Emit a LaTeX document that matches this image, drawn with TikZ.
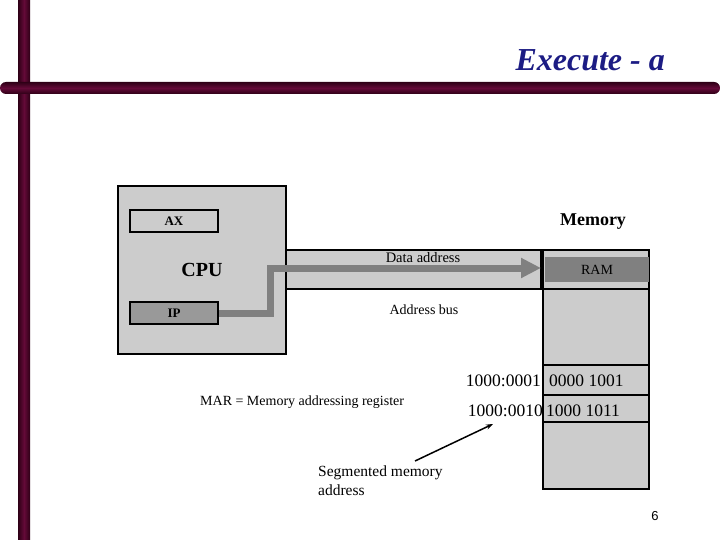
\documentclass[tikz,border=0pt]{standalone}
\usepackage{fontspec}
\setmainfont{Liberation Serif}
\newfontfamily\pagefont{Liberation Sans}
\usetikzlibrary{arrows.meta,positioning,calc}
\definecolor{barmaroon}{HTML}{640A38}
\definecolor{bardark}{HTML}{2E0016}
\definecolor{titleblue}{HTML}{1C1C84}
\definecolor{boxgray}{HTML}{CCCCCC}
\definecolor{ipgray}{HTML}{999999}
\definecolor{busgray}{HTML}{808080}

\begin{document}
\begin{tikzpicture}[x=1pt,y=-1pt,
	box/.style={draw=black,line width=1.5pt,fill=boxgray,inner sep=0pt},
	reg/.style={box,minimum width=88pt,minimum height=22pt,font=\fontsize{13}{13}\selectfont\bfseries},
	txt/.style={inner sep=0pt,font=\fontsize{14}{14}\selectfont},
	cell/.style={inner sep=0pt,font=\fontsize{17.5}{17.5}\selectfont}]
	\useasboundingbox (0,0) rectangle (720,540);
	
	% slide frame
	\shade[left color=bardark,right color=bardark,middle color=barmaroon] (18,0) rectangle (30,540);
	\shade[top color=bardark,bottom color=bardark,middle color=barmaroon,rounded corners=6pt] (0,82) rectangle (720,94);
	\node[anchor=east,inner sep=0pt,text=titleblue,font=\fontsize{32}{32}\selectfont\bfseries\itshape] (title) at (665,60) {Execute - a};
	
	% cpu
	\node[box,minimum width=168pt,minimum height=168pt] (cpu) at (202,270) {};
	\node[reg] (ax) at (174,221) {AX};
	\node[reg,fill=ipgray] (ip) at (174,313) {IP};
	\node[inner sep=0pt,font=\fontsize{20}{20}\selectfont\bfseries] (cpulbl) at (202,270) {CPU};
	
	% bus
	\node[box,minimum width=255pt,minimum height=39pt] (bus) at (413.5,269.5) {};
	\node[txt,font=\fontsize{14.5}{14.5}\selectfont] (data) at (423,258) {Data address};
	\node[txt] (addrbus) at (424,310) {Address bus};
	\coordinate (bend1) at (270,313);
	\coordinate (bend2) at (270,268);
	\coordinate (busend) at (541,268);
	\draw[busgray,line width=7pt,-{Triangle[length=20pt,width=19pt]}] (ip.east) -- (bend1) -- (bend2) -- (busend);
	
	% memory
	\node[inner sep=0pt,font=\fontsize{18}{18}\selectfont\bfseries] (memlbl) at (593,222) {Memory};
	\node[box,minimum width=106pt,minimum height=239pt] (mem) at (596,369.5) {};
	\node[fill=busgray,inner sep=0pt,minimum width=104pt,minimum height=25pt,font=\fontsize{14}{14}\selectfont] (ram) at (597,269.5) {RAM};
	\foreach \y in {289,365,395,422}
		\draw[line width=1.5pt] (mem.west |- 0,\y) -- (mem.east |- 0,\y);
	\node[cell,anchor=west] (val1) at (549,381) {0000 1001};
	\node[cell,anchor=west] (val2) at (546,411) {1000 1011};
	\node[cell,anchor=east] (a1) at (541,381) {1000:0001};
	\node[cell,anchor=east] (a2) at (543,411) {1000:0010};
	
	% notes
	\node[txt,anchor=west] (mar) at (200,402) {MAR = Memory addressing register};
	\node[txt,anchor=north west,align=left,font=\fontsize{15.5}{19}\selectfont] (seg) at (318,466) {Segmented memory\\address};
	\coordinate (segstart) at (415,461);
	\coordinate (segtip) at (493,424);
	\draw[line width=1.5pt,-{Stealth[length=7pt,width=5pt]}] (segstart) -- (segtip);
	\node[inner sep=0pt,font=\pagefont\fontsize{13}{13}\selectfont] (page) at (655,516) {6};
\end{tikzpicture}
\end{document}
